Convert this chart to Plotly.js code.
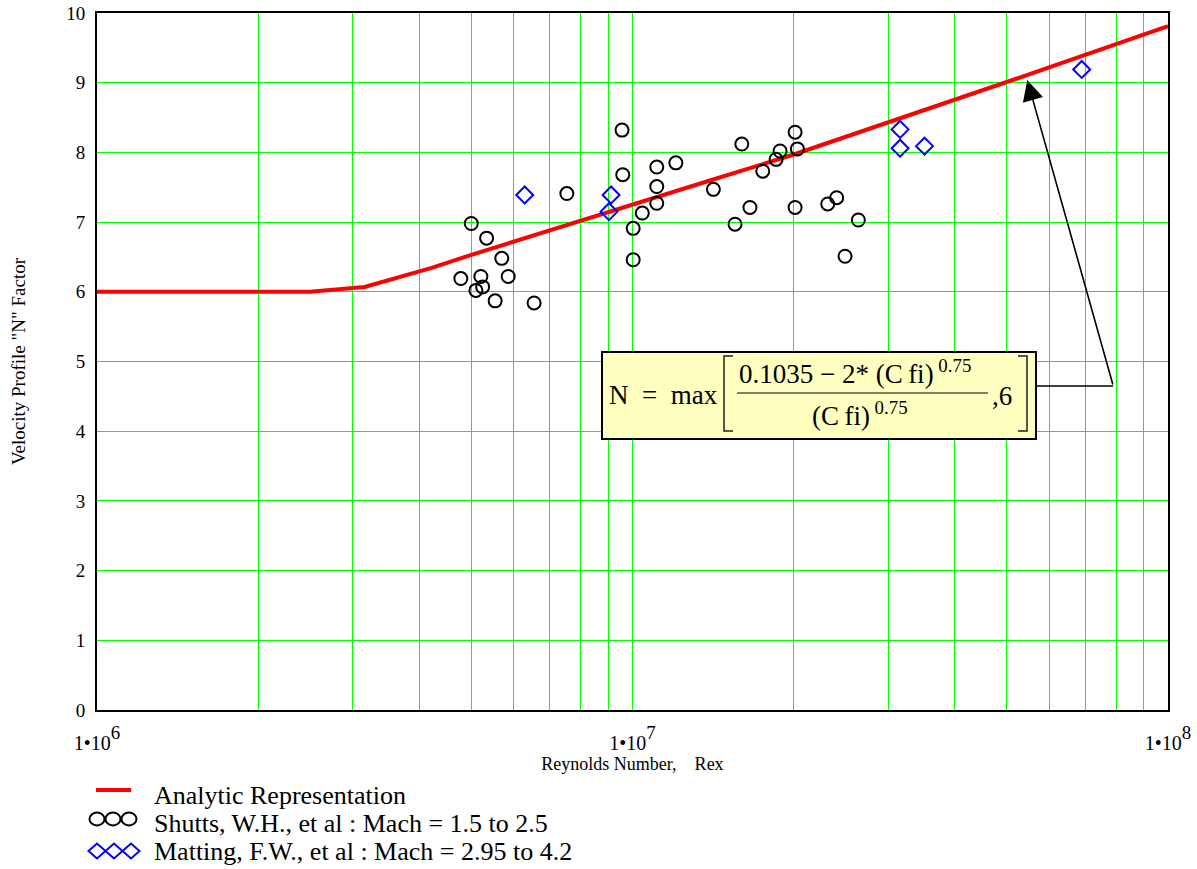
<!DOCTYPE html>
<html>
<head>
<meta charset="utf-8">
<script src="https://cdn.plot.ly/plotly-3.0.1.min.js"></script>
<style>
  html, body { margin: 0; padding: 0; background: #fff; }
  #chart { width: 1197px; height: 869px; }
</style>
</head>
<body>
<div id="chart"></div>
<script>
// Analytic representation of the velocity profile exponent N versus Reynolds number
const analyticRe = [1e6, 2.5e6, 3.16e6, 4.2e6, 5e6, 1e7, 1.4e7, 2e7, 3.56e7, 5e7, 1e8];
const analyticN  = [6.0, 6.0, 6.07, 6.34, 6.53, 7.26, 7.60, 7.97, 8.62, 9.01, 9.81];

// Shutts, W.H., et al (Mach 1.5 to 2.5)
const shuttsRe = [5.0e6, 5.34e6, 5.70e6, 4.78e6, 5.21e6, 5.86e6, 5.10e6, 5.25e6, 5.54e6, 6.55e6,
                  7.54e6, 9.59e6, 9.56e6, 1.003e7, 1.003e7, 1.043e7, 1.11e7, 1.11e7, 1.11e7, 1.205e7,
                  1.416e7, 1.554e7, 1.60e7, 1.657e7, 1.751e7, 1.854e7, 1.886e7, 2.012e7, 2.032e7, 2.012e7,
                  2.315e7, 2.406e7, 2.494e7, 2.641e7];
const shuttsN  = [6.98, 6.77, 6.48, 6.19, 6.22, 6.22, 6.02, 6.07, 5.87, 5.84,
                  7.41, 7.68, 8.32, 6.91, 6.46, 7.13, 7.51, 7.27, 7.79, 7.85,
                  7.47, 6.97, 8.12, 7.21, 7.73, 7.90, 8.02, 8.29, 8.05, 7.21,
                  7.26, 7.35, 6.51, 7.03];

// Matting, F.W., et al (Mach 2.95 to 4.2)
const mattingRe = [6.29e6, 9.12e6, 9.04e6, 3.16e7, 3.16e7, 3.51e7, 6.90e7];
const mattingN  = [7.39, 7.39, 7.15, 8.33, 8.06, 8.09, 9.19];

// Reference marker line at Re = 1e7
const markerRe = 1e7;

// Axis ticks: decade labels, grid at every 1..9 multiple
const decadeVals = [1e6, 1e7, 1e8];
const decadeText = ['6', '7', '8'];
const gridMultipliers = [1, 2, 3, 4, 5, 6, 7, 8, 9];
const yTickVals = [0, 1, 2, 3, 4, 5, 6, 7, 8, 9, 10];

// Legend entries
const legendLabels = [
  'Analytic Representation',
  'Shutts, W.H., et al : Mach = 1.5 to 2.5',
  'Matting, F.W., et al : Mach = 2.95 to 4.2'
];

const xTickVals = [];
const xTickText = [];
decadeVals.forEach((d, i) => {
  const mults = i === decadeVals.length - 1 ? [1] : gridMultipliers;
  mults.forEach(m => {
    xTickVals.push(d * m);
    xTickText.push(m === 1 ? '<span style="font-size:20px">1•10</span><sup>' + decadeText[i] + '</sup>' : '');
  });
});

const SERIF = 'Liberation Serif, Times New Roman, serif';
const W = 1197, H = 869;
const M = { l: 97, r: 29, t: 13, b: 159 };
const plotW = W - M.l - M.r, plotH = H - M.t - M.b;
// page pixel -> paper fraction helpers for the decorations
const PX = x => (x - M.l) / plotW;
const PY = y => (H - M.b - y) / plotH;

const traces = [
  {
    x: analyticRe, y: analyticN, type: 'scatter', mode: 'lines',
    line: { color: '#ff0000', width: 4 }, name: legendLabels[0], showlegend: false
  },
  {
    x: shuttsRe, y: shuttsN, type: 'scatter', mode: 'markers',
    marker: { symbol: 'circle-open', size: 13, color: '#000000', line: { width: 2, color: '#000000' } },
    name: legendLabels[1], showlegend: false
  },
  {
    x: mattingRe, y: mattingN, type: 'scatter', mode: 'markers',
    marker: { symbol: 'diamond-open', size: 13, color: '#0000ff', line: { width: 2, color: '#0000ff' } },
    name: legendLabels[2], showlegend: false
  }
];

const shapes = [];
const annotations = [];

// Vertical marker line at Re = 1e7
shapes.push({
  type: 'line', xref: 'x', yref: 'paper', layer: 'below',
  x0: markerRe, x1: markerRe, y0: 0, y1: 1,
  line: { color: '#000000', width: 1 }
});

// Formula box
shapes.push({
  type: 'rect', xref: 'paper', yref: 'paper', layer: 'above',
  x0: PX(602), x1: PX(1036), y0: PY(439), y1: PY(352),
  fillcolor: '#ffffc0', line: { color: '#000000', width: 2 }
});
// connector from the box to the arrow tail
shapes.push({
  type: 'line', xref: 'paper', yref: 'paper', layer: 'above',
  x0: PX(1037), x1: PX(1113), y0: PY(386), y1: PY(386),
  line: { color: '#000000', width: 1.5 }
});
// square brackets
const bracket = (xv, xt) =>
  `M ${PX(xt)},${PY(356)} L ${PX(xv)},${PY(356)} L ${PX(xv)},${PY(431)} L ${PX(xt)},${PY(431)}`;
shapes.push({ type: 'path', xref: 'paper', yref: 'paper', layer: 'above',
  path: bracket(724, 733), line: { color: '#222222', width: 1.5 } });
shapes.push({ type: 'path', xref: 'paper', yref: 'paper', layer: 'above',
  path: bracket(1027, 1018), line: { color: '#222222', width: 1.5 } });
// fraction bar
shapes.push({
  type: 'line', xref: 'paper', yref: 'paper', layer: 'above',
  x0: PX(737), x1: PX(988), y0: PY(393), y1: PY(393),
  line: { color: '#555544', width: 1.5 }
});

const fText = (txt, x, y, size) => ({
  text: txt, xref: 'paper', yref: 'paper', x: PX(x), y: PY(y),
  xanchor: 'left', yanchor: 'middle', showarrow: false,
  font: { family: SERIF, size: size, color: '#000000' }
});
annotations.push(fText('N\u00a0\u00a0=\u00a0\u00a0max', 607, 395, 27));
annotations.push(fText('0.1035\u00a0\u2212\u00a02*\u00a0(C\u2009fi)<sup>\u00a00.75</sup>', 737, 372, 27));
annotations.push(fText('(C\u2009fi)<sup>\u00a00.75</sup>', 810, 414, 27));
annotations.push(fText(',6', 990, 396, 27));

// Arrow pointing at the analytic curve
annotations.push({
  text: '', xref: 'x', yref: 'y', x: Math.log10(5.46e7), y: 9.04,
  showarrow: true, ax: 86, ay: 306, arrowhead: 2, arrowsize: 2.6,
  arrowwidth: 1.6, arrowcolor: '#000000', standoff: 0, startstandoff: 0
});

// Legend drawn beneath the plot
shapes.push({
  type: 'line', xref: 'paper', yref: 'paper',
  x0: PX(96), x1: PX(131), y0: PY(790), y1: PY(790),
  line: { color: '#ff0000', width: 4 }
});
[97, 113, 129].forEach(cx => shapes.push({
  type: 'circle', xref: 'paper', yref: 'paper',
  x0: PX(cx - 7.5), x1: PX(cx + 7.5), y0: PY(819 + 6.5), y1: PY(819 - 6.5),
  line: { color: '#000000', width: 2 }
}));
[97, 114, 131].forEach(cx => shapes.push({
  type: 'path', xref: 'paper', yref: 'paper',
  path: `M ${PX(cx - 8.5)},${PY(851)} L ${PX(cx)},${PY(843.5)} L ${PX(cx + 8.5)},${PY(851)} L ${PX(cx)},${PY(858.5)} Z`,
  line: { color: '#0000ff', width: 2 }
}));
legendLabels.forEach((lab, i) => annotations.push({
  text: lab, xref: 'paper', yref: 'paper', x: PX(152), y: PY(795 + 28 * i),
  xanchor: 'left', yanchor: 'middle', showarrow: false,
  font: { family: SERIF, size: 26, color: '#000000' }
}));

const layout = {
  width: W, height: H, autosize: false,
  margin: M,
  paper_bgcolor: '#ffffff', plot_bgcolor: '#ffffff',
  showlegend: false,
  font: { family: SERIF, color: '#000000' },
  xaxis: {
    type: 'log', range: [6, 8],
    tickmode: 'array', tickvals: xTickVals, ticktext: xTickText,
    ticks: '', ticklabelstandoff: 6,
    tickfont: { family: SERIF, size: 27, color: '#000000' },
    showgrid: true, gridcolor: '#00ff00', gridwidth: 1,
    showline: true, linecolor: '#000000', linewidth: 2, mirror: true,
    zeroline: false,
    title: { text: 'Reynolds Number,\u00a0\u00a0\u00a0\u00a0Rex', font: { family: SERIF, size: 18, color: '#000000' }, standoff: 2 },
    automargin: false
  },
  yaxis: {
    range: [0, 10], tickmode: 'array', tickvals: yTickVals,
    ticks: '', ticklabelstandoff: 6,
    tickfont: { family: SERIF, size: 19, color: '#000000' },
    showgrid: true, gridcolor: '#00ff00', gridwidth: 1,
    showline: true, linecolor: '#000000', linewidth: 2, mirror: true,
    zeroline: false,
    title: { text: 'Velocity Profile "N" Factor', font: { family: SERIF, size: 19, color: '#000000' }, standoff: 36 },
    automargin: false
  },
  shapes: shapes,
  annotations: annotations
};

Plotly.newPlot('chart', traces, layout, { displayModeBar: false, staticPlot: true });
</script>
</body>
</html>
